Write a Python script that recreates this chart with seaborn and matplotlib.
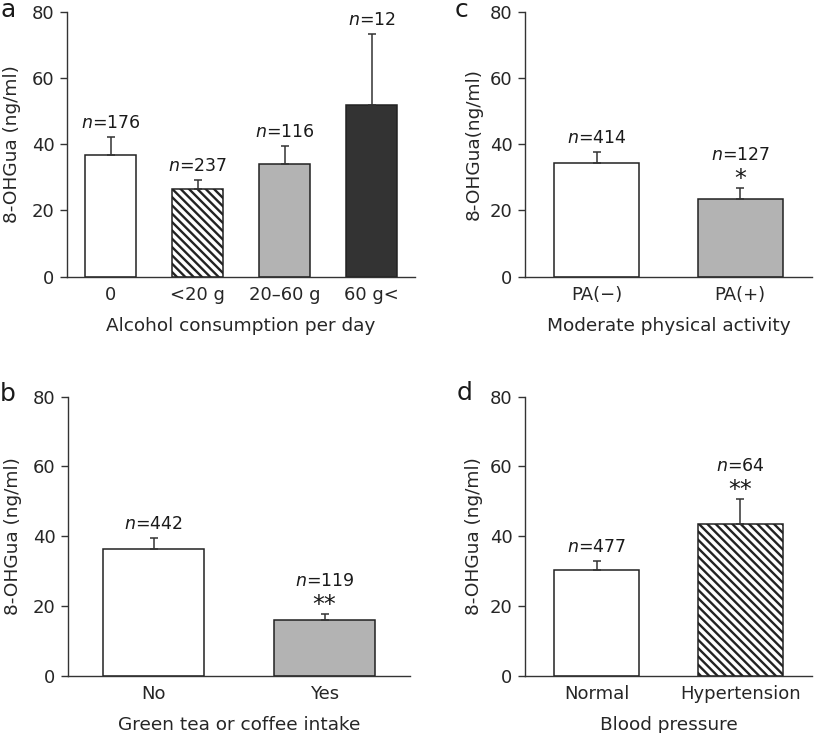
"""Four-panel bar chart: 8-OHGua by lifestyle factor (mean + SEM)."""
import numpy as np
import matplotlib
matplotlib.use("Agg")
import matplotlib.pyplot as plt
import seaborn as sns

# ---------------------------------------------------------------------------
# data
# ---------------------------------------------------------------------------
alcohol_cats = ["0", "<20 g", "20–60 g", "60 g<"]
alcohol_mean = [36.8, 26.5, 34.1, 51.7]
alcohol_sem = [5.4, 2.8, 5.5, 21.5]
alcohol_n = [176, 237, 116, 12]
alcohol_sig = ["", "", "", ""]

pa_cats = ["PA(−)", "PA(+)"]
pa_mean = [34.4, 23.4]
pa_sem = [3.1, 3.4]
pa_n = [414, 127]
pa_sig = ["", "*"]

tea_cats = ["No", "Yes"]
tea_mean = [36.3, 15.9]
tea_sem = [3.1, 1.9]
tea_n = [442, 119]
tea_sig = ["", "**"]

bp_cats = ["Normal", "Hypertension"]
bp_mean = [30.2, 43.4]
bp_sem = [2.8, 7.2]
bp_n = [477, 64]
bp_sig = ["", "**"]

WHITE, GRAY, DARK = "#ffffff", "#b3b3b3", "#333333"
LINE = "#333333"
HATCH = "\\\\\\\\"

sns.set_style("ticks")
plt.rcParams["font.family"] = ["DejaVu Sans"]
plt.rcParams["mathtext.fontset"] = "dejavusans"
plt.rcParams["font.size"] = 12
plt.rcParams["hatch.color"] = "#111111"
plt.rcParams["hatch.linewidth"] = 1.7
plt.rcParams["text.color"] = "#1a1a1a"


def draw_panel(ax, cats, means, sems, ns, sigs, colors, hatches,
               xlabel, ylabel, width, ylabelpad):
    sns.barplot(x=cats, y=means, hue=cats, order=cats, hue_order=cats,
                palette=colors, legend=False, ax=ax, width=width,
                saturation=1, errorbar=None, edgecolor="#222222",
                linewidth=1.1)
    for bar, h in zip(ax.patches, hatches):
        if h:
            bar.set_hatch(h)
    x = np.arange(len(cats))
    ax.errorbar(x, means, yerr=[np.zeros(len(cats)), sems], fmt="none",
                ecolor=LINE, elinewidth=1.1, capsize=2.6, capthick=1.1,
                zorder=1)
    for i in range(len(cats)):
        top = means[i] + sems[i]
        if sigs[i]:
            ax.annotate(sigs[i], xy=(i, top), xytext=(0, 9),
                        textcoords="offset pixels", ha="center",
                        va="center", fontsize=17)
            ax.annotate(f"$n$={ns[i]}", xy=(i, top), xytext=(0, 33),
                        textcoords="offset pixels", ha="center",
                        va="center", fontsize=12.5)
        else:
            ax.annotate(f"$n$={ns[i]}", xy=(i, top), xytext=(0, 14),
                        textcoords="offset pixels", ha="center",
                        va="center", fontsize=12.5)
    ax.set_ylim(0, 80)
    ax.set_yticks([0, 20, 40, 60, 80])
    ax.set_xlim(-0.5, len(cats) - 0.5)
    ax.set_xlabel(xlabel, fontsize=13.3, labelpad=9)
    ax.set_ylabel(ylabel, fontsize=13.3, labelpad=ylabelpad)
    ax.tick_params(axis="x", length=0, pad=7, labelsize=13)
    ax.tick_params(axis="y", length=5, width=1, direction="out", pad=4,
                   labelsize=13, color=LINE)
    for side in ["top", "right"]:
        ax.spines[side].set_visible(False)
    for side in ["left", "bottom"]:
        ax.spines[side].set_color(LINE)
        ax.spines[side].set_linewidth(1.0)


fig = plt.figure(figsize=(8.16, 7.33), dpi=100)
W, H = 816, 733


def rect(left, right, top, bottom):
    return [left / W, 1 - bottom / H, (right - left) / W, (bottom - top) / H]


ax_a = fig.add_axes(rect(67, 415, 11.7, 276.7))
ax_c = fig.add_axes(rect(525, 812, 11.7, 276.7))
ax_b = fig.add_axes(rect(68, 410, 396.7, 675.7))
ax_d = fig.add_axes(rect(525, 812, 396.7, 675.7))

draw_panel(ax_a, alcohol_cats, alcohol_mean, alcohol_sem, alcohol_n,
           alcohol_sig, [WHITE, WHITE, GRAY, DARK], [None, HATCH, None, None],
           "Alcohol consumption per day", "8-OHGua (ng/ml)", 0.58, 7.5)
draw_panel(ax_c, pa_cats, pa_mean, pa_sem, pa_n, pa_sig,
           [WHITE, GRAY], [None, None],
           "Moderate physical activity", "8-OHGua(ng/ml)", 0.59, 4.7)
draw_panel(ax_b, tea_cats, tea_mean, tea_sem, tea_n, tea_sig,
           [WHITE, GRAY], [None, None],
           "Green tea or coffee intake", "8-OHGua (ng/ml)", 0.59, 7.5)
draw_panel(ax_d, bp_cats, bp_mean, bp_sem, bp_n, bp_sig,
           [WHITE, WHITE], [None, HATCH],
           "Blood pressure", "8-OHGua (ng/ml)", 0.59, 4.7)

for letter, x, y in [("a", 0, 17), ("c", 455, 17), ("b", 0, 401), ("d", 457, 400)]:
    fig.text(x / W, 1 - y / H, letter, ha="left", va="baseline", fontsize=18)

fig.savefig("out.png", dpi=100)
